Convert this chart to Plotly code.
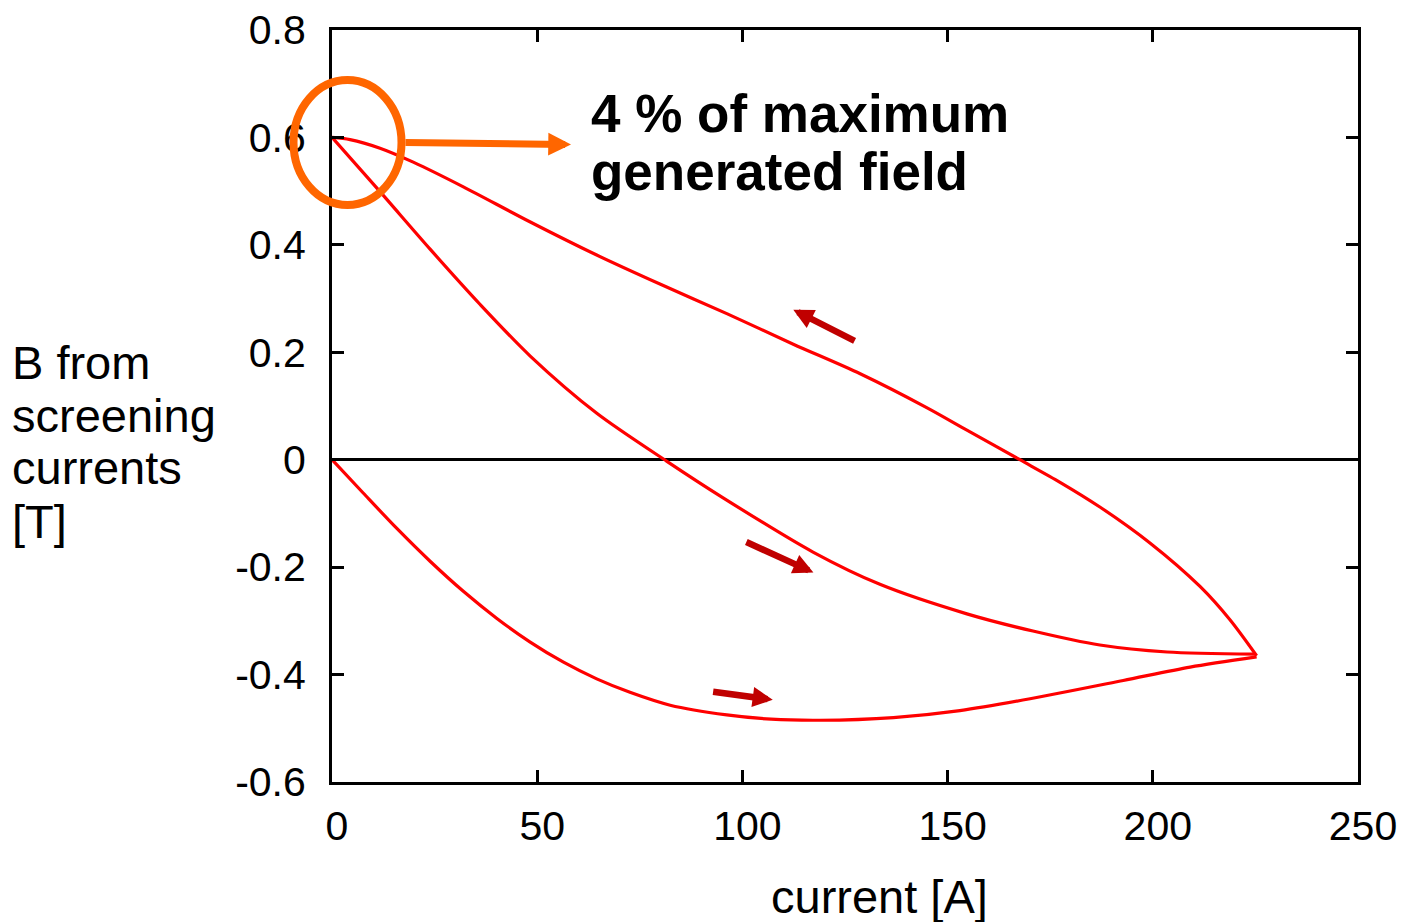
import plotly.graph_objects as go

# Screening-current field vs. transport current, three ramp branches
# First ramp up from zero current
ramp1_current = [0, 7.6, 15.8, 23.9, 32.0, 40.1, 48.2, 56.4, 64.5, 72.6, 82.4,
                 96.2, 107.0, 118.9, 136.8, 153.0, 170.1, 192.8, 209.1, 225.3]
ramp1_field = [0, -0.062, -0.128, -0.189, -0.245, -0.295, -0.339, -0.377, -0.408,
               -0.433, -0.457, -0.475, -0.483, -0.485, -0.480, -0.467, -0.445,
               -0.411, -0.386, -0.367]

# Ramp down back to zero current
down_current = [225.3, 218.8, 211.5, 199.3, 187.1, 177.4, 167.6, 154.7, 144.9,
                128.7, 112.4, 96.2, 79.9, 64.5, 48.2, 32.0, 19.8, 11.7, 4.4, 0]
down_field = [-0.365, -0.298, -0.236, -0.155, -0.088, -0.042, 0.0, 0.055, 0.097,
              0.160, 0.215, 0.272, 0.327, 0.381, 0.443, 0.508, 0.554, 0.580,
              0.596, 0.600]

# Second ramp up
ramp2_current = [0, 11.7, 23.9, 36.1, 48.3, 64.6, 81.6, 95.3, 117.2, 133.5,
                 154.7, 170.8, 187.1, 203.5, 224.9]
ramp2_field = [0.600, 0.499, 0.392, 0.289, 0.193, 0.086, -0.003, -0.071, -0.172,
               -0.232, -0.287, -0.319, -0.345, -0.358, -0.362]

x_ticks = [0, 50, 100, 150, 200, 250]
y_ticks = [-0.6, -0.4, -0.2, 0, 0.2, 0.4, 0.6, 0.8]
y_tick_text = ["-0.6", "-0.4", "-0.2", "0", "0.2", "0.4", "0.6", "0.8"]

y_title_lines = ["B from", "screening", "currents", "[T]"]
note_lines = ["4 % of maximum", "generated field"]

FONT = "Liberation Sans, Arial, Helvetica, sans-serif"
RED = "#FF0000"
DARK_RED = "#C00000"
ORANGE = "#FF6600"

fig = go.Figure()
for xs, ys in [(ramp1_current, ramp1_field), (down_current, down_field),
               (ramp2_current, ramp2_field)]:
    fig.add_trace(go.Scatter(x=xs, y=ys, mode="lines",
                             line=dict(color=RED, width=3.2, shape="spline",
                                       smoothing=0.8),
                             showlegend=False, hoverinfo="skip"))

# Plot-area geometry in pixels (used to place paper-referenced decorations)
W, H = 1402, 922
ML, MR, MT, MB = 332, 44, 30, 140
PW, PH = W - ML - MR, H - MT - MB


def px_x(px):
    return (px - ML) / PW


def px_y(py):
    return (H - MB - py) / PH


annotations = []
# Direction arrows along the branches (head, tail in data units)
for (hx, hy), (tx, ty) in [((112.4, 0.279), (127.7, 0.220)),
                           ((117.3, -0.210), (100.6, -0.152)),
                           ((107.4, -0.447), (92.5, -0.4315))]:
    annotations.append(dict(x=hx, y=hy, ax=tx, ay=ty, xref="x", yref="y",
                            axref="x", ayref="y", text="", showarrow=True,
                            arrowhead=2, arrowsize=0.62, arrowwidth=6.5,
                            arrowcolor=DARK_RED))

# Orange callout arrow (tail given as pixel offset from the head)
annotations.append(dict(x=px_x(571), y=px_y(144.5), ax=404 - 571, ay=142.5 - 144.5,
                        xref="paper", yref="paper", axref="pixel", ayref="pixel",
                        text="", showarrow=True, arrowhead=2, arrowsize=0.65,
                        arrowwidth=7, arrowcolor=ORANGE))

# Callout text
for i, line in enumerate(note_lines):
    annotations.append(dict(x=px_x(589), y=px_y(114 + 57 * i), xref="paper",
                            yref="paper", xanchor="left", yanchor="middle",
                            text="<b>%s</b>" % line, showarrow=False,
                            font=dict(family=FONT, size=53, color="black")))

# Y-axis title, one line per annotation
for i, line in enumerate(y_title_lines):
    annotations.append(dict(x=px_x(10), y=px_y(362 + 53 * i), xref="paper",
                            yref="paper", xanchor="left", yanchor="middle",
                            text=line, showarrow=False,
                            font=dict(family=FONT, size=47, color="black")))

# X-axis title
annotations.append(dict(x=px_x(879), y=px_y(896), xref="paper", yref="paper",
                        xanchor="center", yanchor="middle", text="current [A]",
                        showarrow=False,
                        font=dict(family=FONT, size=47, color="black")))

shapes = [dict(type="circle", xref="paper", yref="paper",
               x0=px_x(293.5), x1=px_x(401.5), y0=px_y(205), y1=px_y(80),
               line=dict(color=ORANGE, width=8), layer="above")]

axis_common = dict(showline=True, linecolor="black", linewidth=3, mirror="ticks",
                   ticks="inside", ticklen=12, tickwidth=3, tickcolor="black",
                   showgrid=False, automargin=False,
                   tickfont=dict(family=FONT, size=41, color="black"))

fig.update_layout(
    width=W, height=H,
    margin=dict(l=ML, r=MR, t=MT, b=MB, pad=0, autoexpand=False),
    paper_bgcolor="white", plot_bgcolor="white",
    xaxis=dict(range=[0, 250], tickvals=x_ticks, zeroline=False,
               ticklabelstandoff=6, ticklabelshift=5, **axis_common),
    yaxis=dict(range=[-0.6, 0.8], tickvals=y_ticks, ticktext=y_tick_text,
               zeroline=True, zerolinecolor="black", zerolinewidth=3,
               ticklabelstandoff=15, **axis_common),
    annotations=annotations,
    shapes=shapes,
)

fig.write_html("out.html")
